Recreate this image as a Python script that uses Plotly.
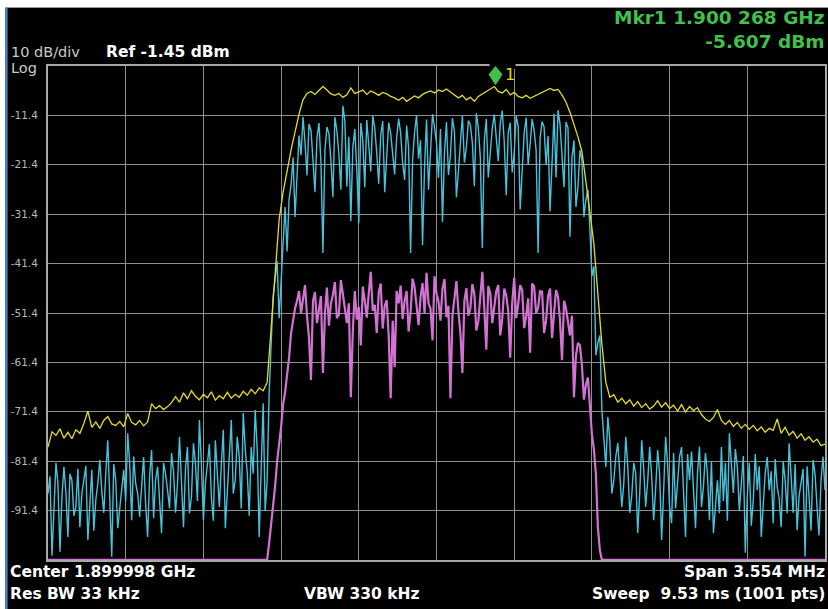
import numpy as np
import plotly.graph_objects as go

# ---------------- instrument settings ----------------
center_mhz = 1899.998
span_mhz = 3.554
ref_dbm = -1.45
db_per_div = 10
n_div = 10
mkr_freq_mhz = 1900.268
mkr_dbm = -5.607

y_tick_labels = ["-11.4", "-21.4", "-31.4", "-41.4", "-51.4",
                 "-61.4", "-71.4", "-81.4", "-91.4"]

# ---------------- trace values (dBm) ----------------
# yellow: max hold
trace_max_hold = [
    -78.6, -75.5, -76.2, -74.9, -76.8, -75.6, -76.9, -75.1, -75.8, -73.8,
    -71.3, -74.6, -73.5, -74.8, -73.2, -72.4, -73.9, -74.2, -73.4, -74.5,
    -71.8, -73.6, -74.1, -73.2, -74.3, -73.5, -69.8, -70.8, -70.2, -71.0,
    -70.4, -69.6, -68.4, -69.5, -67.6, -68.8, -67.2, -68.3, -69.0, -67.9,
    -68.6, -67.4, -69.1, -68.2, -68.8, -67.5, -68.7, -67.9, -68.5, -67.3,
    -68.1, -66.9, -67.8, -66.6, -67.2, -65.5, -54.5, -43.0, -32.6, -27.0,
    -22.5, -18.5, -14.8, -11.2, -8.3, -7.0, -6.6, -7.2, -6.4, -5.6,
    -6.3, -7.1, -7.4, -7.0, -7.8, -7.3, -5.9, -7.0, -6.7, -6.3,
    -7.2, -6.5, -6.9, -7.4, -6.8, -7.1, -7.6, -7.9, -8.4, -7.8,
    -8.6, -8.0, -7.5, -7.9, -7.2, -6.8, -6.5, -6.9, -6.3, -6.6,
    -6.1, -6.7, -7.3, -7.9, -7.4, -8.3, -7.8, -8.6, -7.6, -7.1,
    -6.6, -6.0, -5.6, -6.6, -6.9, -6.2, -7.3, -6.8, -7.6, -7.9,
    -7.4, -8.0, -7.6, -7.2, -6.8, -6.5, -6.0, -6.4, -6.2, -7.3,
    -8.8, -10.8, -13.2, -15.8, -18.8, -24.5, -31.0, -37.5, -47.4, -57.7,
    -65.5, -68.5, -68.0, -69.5, -68.7, -69.8, -69.0, -70.3, -69.4, -70.6,
    -69.8, -70.9, -70.3, -69.2, -70.5, -69.6, -70.8, -70.1, -71.3, -70.0,
    -71.5, -70.4, -71.2, -70.6, -72.0, -72.9, -73.4, -72.6, -71.0, -73.2,
    -74.0, -73.2, -74.4, -73.6, -74.8, -74.0, -75.0, -74.2, -75.3, -74.5,
    -75.6, -74.8, -75.2, -72.9, -75.8, -74.6, -76.2, -75.4, -76.8, -75.9,
    -77.2, -76.5, -77.6, -77.0, -78.3, -78.0,
]

# cyan: clear/write
trace_clear_write = [
    -88.0, -84.5, -100.6, -92.0, -81.8, -86.0, -99.8, -88.5, -82.6, -87.9,
    -96.8, -84.0, -85.3, -92.5, -90.7, -83.0, -94.8, -88.0, -85.3, -82.4,
    -97.4, -90.0, -83.2, -95.5, -89.3, -86.0, -81.2, -87.5, -91.9, -84.0,
    -77.2, -89.0, -100.8, -82.0, -85.3, -95.0, -91.3, -86.5, -83.2, -89.6,
    -75.8, -82.0, -93.4, -80.5, -85.9, -88.0, -92.7, -86.5, -80.6, -90.0,
    -96.8, -84.5, -79.2, -93.0, -85.3, -82.6, -90.7, -96.0, -81.8, -84.0,
    -87.3, -91.0, -79.8, -83.5, -91.9, -86.0, -76.5, -85.0, -94.8, -83.0,
    -78.6, -92.0, -88.7, -77.8, -81.8, -89.5, -73.1, -82.0, -93.4, -86.0,
    -81.8, -78.0, -88.7, -93.5, -77.2, -84.0, -90.7, -82.0, -75.1, -95.0,
    -86.7, -80.0, -73.1, -88.0, -85.3, -76.5, -80.6, -91.0, -71.7, -79.0,
    -83.8, -92.5, -78.6, -84.0, -71.1, -79.0, -96.8, -83.0, -69.7, -91.5,
    -85.3, -67.6,
    -56.0, -48.0, -44.5, -41.0, -52.5, -45.0, -35.5, -30.0, -39.0, -28.5,
    -25.5, -20.0, -32.0, -24.0, -15.5, -19.5, -11.8, -17.0, -23.6, -13.2,
    -14.5, -20.5, -27.0, -16.0, -13.0, -21.0, -39.3, -18.5, -13.8, -15.2,
    -20.5, -28.0, -11.8, -14.6, -19.3, -26.5, -9.5, -12.5, -25.9, -15.8,
    -32.8, -18.0, -14.2, -22.5, -33.3, -13.0, -16.5, -26.0, -12.4, -17.5,
    -22.8, -11.6, -14.0, -19.0, -25.3, -15.5, -12.6, -27.0, -19.7, -12.9,
    -15.1, -18.8, -23.4, -16.0, -12.1, -15.0, -21.0, -24.5, -13.5, -18.0,
    -39.3, -20.5, -14.8, -11.4, -20.2, -16.5, -37.7, -22.0, -12.3, -26.5,
    -18.6, -11.2, -13.9, -17.0, -24.1, -14.2, -33.0, -19.0, -12.8, -23.5,
    -19.5, -12.0, -14.7, -28.0, -22.6, -16.2, -11.5, -21.0, -17.9, -12.5,
    -13.4, -17.0, -25.8, -11.0, -14.0, -20.0, -38.3, -16.5, -12.2, -24.0,
    -18.4, -14.0, -11.3, -16.0, -20.7, -13.0, -10.5, -16.8, -27.6, -15.0,
    -12.9, -23.0, -19.1, -11.6, -13.6, -30.5, -22.4, -15.0, -11.9, -21.5,
    -17.3, -12.2, -14.5, -18.5, -39.3, -16.0, -12.7, -13.8, -21.5, -15.6,
    -30.9, -20.0, -11.1, -24.0, -10.4, -13.2, -19.8, -26.0, -12.8, -14.0,
    -36.0, -20.0, -16.5, -30.0, -25.9, -18.5, -20.5, -32.0, -28.5, -26.5,
    -34.5, -44.0, -42.0, -60.0, -57.5, -56.0, -71.0, -76.0, -82.6, -72.5,
    -77.2, -88.0, -85.3, -80.5, -77.8, -84.0, -90.7, -86.0, -76.5, -82.5,
    -91.9, -88.5, -81.8, -84.0, -96.0, -88.0, -77.2, -83.0, -90.7, -85.5,
    -78.6, -84.5, -93.4, -87.0, -79.2, -84.0, -97.4, -87.5, -76.5, -82.0,
    -90.7, -94.0, -79.8, -91.0, -85.3, -80.5, -78.6, -88.0, -96.8, -80.0,
    -85.3, -79.5, -88.7, -95.0, -83.8, -78.5, -90.7, -86.5, -79.8, -84.0,
    -93.4, -81.5, -96.0, -90.0, -85.3, -92.0, -78.6, -89.5, -81.8, -93.5,
    -75.8, -82.0, -87.9, -79.0, -82.6, -91.5, -86.7, -80.4, -100.0, -88.5,
    -81.8, -94.5, -89.3, -80.0, -87.3, -82.5, -96.8, -90.0, -83.8, -80.6,
    -87.3, -83.5, -94.0, -81.0, -86.7, -89.0, -94.8, -81.5, -85.3, -92.0,
    -77.8, -84.5, -91.9, -82.0, -95.4, -88.5, -85.3, -83.0, -100.8, -82.5,
    -88.7, -95.5, -81.2, -84.0, -90.7, -96.5, -85.3, -80.5, -87.3,
]

# magenta: average (sits on the bottom of the screen outside the channel)
trace_average = [
    -101.4, -101.4, -101.4, -101.4, -101.4, -101.4, -101.4, -101.4, -101.4, -101.4,
    -101.4, -101.4, -101.4, -101.4, -101.4, -101.4, -101.4, -101.4, -101.4, -101.4,
    -101.4, -101.4, -101.4, -101.4, -101.4, -101.4, -101.4, -101.4, -101.4, -101.4,
    -101.4, -101.4, -101.4, -101.4, -101.4, -101.4, -101.4, -101.4, -101.4, -101.4,
    -101.4, -101.4, -101.4, -101.4, -101.4, -101.4, -101.4, -101.4, -101.4, -101.4,
    -101.4, -101.4, -101.4, -101.4, -101.4, -101.4, -101.4, -101.4, -101.4, -101.4,
    -101.4, -101.4, -101.4, -101.4, -101.4, -101.4, -101.4, -101.4, -101.4, -101.4,
    -101.4, -101.4, -101.4, -101.4, -101.4, -101.4, -101.4, -101.4, -101.4, -101.4,
    -101.4, -101.4, -101.4, -101.4, -101.4, -101.4, -101.4, -101.4, -101.4, -101.4,
    -101.4, -101.4, -101.4, -101.4, -101.4, -101.4, -101.4, -101.4, -101.4, -101.4,
    -101.4, -101.4, -101.4, -101.4, -101.4, -101.4, -101.4, -101.4, -101.4, -101.4,
    -101.4, -98.0,
    -94.5, -90.0, -86.5, -81.5, -78.2, -74.5, -70.0, -67.5, -64.0, -60.5,
    -55.5, -53.0, -50.5, -49.0, -47.0, -51.5,
    -48.5, -45.8, -52.0, -56.5, -65.0, -49.0, -47.2, -53.5, -50.8, -48.0,
    -63.6, -51.5, -46.3, -54.0, -49.5, -47.8, -45.2, -52.5, -51.8, -44.8,
    -47.6, -50.5, -53.5, -49.5, -68.5, -55.0, -47.0, -52.8, -50.2, -58.0,
    -46.1, -49.0, -52.4, -47.5, -43.1, -51.0, -49.8, -55.5, -47.3, -45.5,
    -54.6, -50.0, -48.9, -56.0, -68.7, -53.0, -62.4, -47.0, -49.5, -45.9,
    -52.7, -49.0, -47.0, -55.2, -51.3, -44.5, -46.2, -50.0, -53.9, -48.2,
    -45.4, -51.5, -43.3, -49.5, -50.6, -57.0, -44.0, -47.5, -49.1, -53.0,
    -46.5, -44.6, -52.3, -50.0, -68.7, -52.0, -47.8, -45.0, -51.2, -55.5,
    -63.6, -49.0, -46.4, -52.0, -50.5, -45.6, -47.6, -55.0, -53.1, -48.0,
    -43.1, -50.5, -58.9, -46.0, -47.5, -53.5, -50.0, -47.0, -45.8, -56.0,
    -52.6, -46.5, -47.9, -51.0, -60.5, -49.5, -44.3, -52.5, -49.7, -45.8,
    -46.8, -54.5, -52.2, -48.5, -59.5, -45.5, -46.0, -51.5, -50.4, -47.0,
    -47.1, -55.5, -53.0, -48.0, -46.5, -56.5, -51.6, -46.8, -48.2, -53.0,
    -61.0, -49.0,
    -50.5, -53.5, -56.0, -52.0, -68.5, -60.0, -57.5, -58.0, -62.0, -69.0,
    -66.0, -64.5, -71.5, -76.0, -79.0, -84.0, -94.8, -99.5,
    -101.4, -101.4, -101.4, -101.4, -101.4, -101.4, -101.4, -101.4, -101.4, -101.4,
    -101.4, -101.4, -101.4, -101.4, -101.4, -101.4, -101.4, -101.4, -101.4, -101.4,
    -101.4, -101.4, -101.4, -101.4, -101.4, -101.4, -101.4, -101.4, -101.4, -101.4,
    -101.4, -101.4, -101.4, -101.4, -101.4, -101.4, -101.4, -101.4, -101.4, -101.4,
    -101.4, -101.4, -101.4, -101.4, -101.4, -101.4, -101.4, -101.4, -101.4, -101.4,
    -101.4, -101.4, -101.4, -101.4, -101.4, -101.4, -101.4, -101.4, -101.4, -101.4,
    -101.4, -101.4, -101.4, -101.4, -101.4, -101.4, -101.4, -101.4, -101.4, -101.4,
    -101.4, -101.4, -101.4, -101.4, -101.4, -101.4, -101.4, -101.4, -101.4, -101.4,
    -101.4, -101.4, -101.4, -101.4, -101.4, -101.4, -101.4, -101.4, -101.4, -101.4,
    -101.4, -101.4, -101.4, -101.4, -101.4, -101.4, -101.4, -101.4, -101.4, -101.4,
    -101.4, -101.4, -101.4, -101.4, -101.4, -101.4, -101.4, -101.4, -101.4, -101.4,
    -101.4, -101.4, -101.4,
]

# ---------------- layout constants ----------------
W, H = 828, 609
ML, MR, MT, MB = 48, 1, 66, 49
PW, PH = W - ML - MR, H - MT - MB

YELLOW = "#e4dc22"
CYAN = "#46c2da"
MAGENTA = "#d272d2"
GRID = "#8e8e8e"
BORDER = "#a8a8a8"
GREEN = "#42bf4c"
FONT = "DejaVu Sans"

f_start = center_mhz - span_mhz / 2
f_stop = center_mhz + span_mhz / 2
y_top = ref_dbm
y_bot = ref_dbm - db_per_div * n_div


def sweep(values):
    return np.linspace(f_start, f_stop, len(values))


def px(xp):
    return (xp - ML) / PW


def py(yp):
    return (H - MB - yp) / PH


fig = go.Figure()
for vals, col, wd in [(trace_average, MAGENTA, 2.2),
                      (trace_clear_write, CYAN, 1.4),
                      (trace_max_hold, YELLOW, 1.3)]:
    fig.add_trace(go.Scatter(x=sweep(vals), y=vals, mode="lines",
                             line=dict(color=col, width=wd),
                             hoverinfo="skip", showlegend=False))

x_grid = [f_start + k * span_mhz / n_div for k in range(1, n_div)]
y_grid = [y_top - k * db_per_div for k in range(1, n_div)]

fig.update_xaxes(range=[f_start, f_stop], tickvals=x_grid, showticklabels=False,
                 showgrid=True, gridcolor=GRID, gridwidth=1, zeroline=False,
                 showline=True, mirror=True, linecolor=BORDER, linewidth=2)
fig.update_yaxes(range=[y_bot, y_top], tickvals=y_grid, ticktext=y_tick_labels,
                 showgrid=True, gridcolor=GRID, gridwidth=1, zeroline=False,
                 showline=True, mirror=True, linecolor=BORDER, linewidth=2,
                 ticks="outside", ticklen=6, tickcolor="rgba(0,0,0,0)",
                 tickfont=dict(family=FONT, size=10.5, color="#b8b8b8"))

shapes = [
    # white page margin (top / left) and blue frame edge
    dict(type="rect", xref="paper", yref="paper", x0=px(-5), x1=px(W + 5),
         y0=py(7), y1=py(-5), fillcolor="white", line_width=0, layer="below"),
    dict(type="rect", xref="paper", yref="paper", x0=px(-5), x1=px(5),
         y0=py(H + 5), y1=py(-5), fillcolor="white", line_width=0, layer="below"),
    dict(type="rect", xref="paper", yref="paper", x0=px(5), x1=px(7.5),
         y0=py(H + 5), y1=py(7), fillcolor="#4a86c8", line_width=0, layer="below"),
    dict(type="line", xref="paper", yref="paper", x0=px(5), x1=px(W + 5),
         y0=py(7.5), y1=py(7.5), line=dict(color="#9a9a9a", width=1)),
    # marker label background breaking the top border
    dict(type="rect", xref="x", yref="paper", xsizemode="pixel", xanchor=mkr_freq_mhz,
         x0=-6, x1=20, y0=py(69), y1=py(62),
         fillcolor="black", line_width=0, layer="above"),
    # marker diamond (tip on the marked point)
    dict(type="path", xref="x", yref="y", xsizemode="pixel", ysizemode="pixel",
         xanchor=mkr_freq_mhz, yanchor=mkr_dbm,
         path="M0,2 L6.5,12 L0,20 L-6.5,12 Z",
         fillcolor=GREEN, line=dict(color=GREEN, width=1), layer="above"),
]

ann = []


def text(s, xp, yp, anchor="left", size=15.5, color="white", bold=True):
    ann.append(dict(text=s, xref="paper", yref="paper", x=px(xp), y=py(yp),
                    xanchor=anchor, yanchor="middle", align=anchor, showarrow=False,
                    font=dict(family=FONT, size=size, color=color,
                              weight="bold" if bold else "normal")))


text(f"{db_per_div} dB/div", 9, 52, size=14.5, color="#cacaca", bold=False)
text(f"Ref {ref_dbm:.2f} dBm", 104, 52, size=15.5)
text("Log", 9, 68, size=14.5, color="#cacaca", bold=False)
text(f"Mkr1 1.900 268 GHz<br>{mkr_dbm:.3f} dBm", 829, 29.5, anchor="right",
     size=18.5, color=GREEN)
text("Center 1.899998 GHz", 8, 572, size=15.5)
text(f"Span {span_mhz:.3f} MHz", 829, 572, anchor="right", size=15.5)
text("Res BW 33 kHz", 8, 594, size=15.5)
text("VBW 330 kHz", 303, 594, size=15.5)
text("Sweep  9.53 ms (1001 pts)", 829, 594, anchor="right", size=15.5)

ann.append(dict(text="1", xref="x", yref="y", x=mkr_freq_mhz, y=mkr_dbm,
                xshift=14, yshift=12, showarrow=False,
                font=dict(family=FONT, size=16, color=YELLOW)))

fig.update_layout(width=W, height=H, autosize=False,
                  margin=dict(l=ML, r=MR, t=MT, b=MB, pad=0),
                  paper_bgcolor="black", plot_bgcolor="black",
                  shapes=shapes, annotations=ann, showlegend=False)

fig.write_html("out.html", config={"displayModeBar": False},
               post_script="document.body.style.margin='0px';")
